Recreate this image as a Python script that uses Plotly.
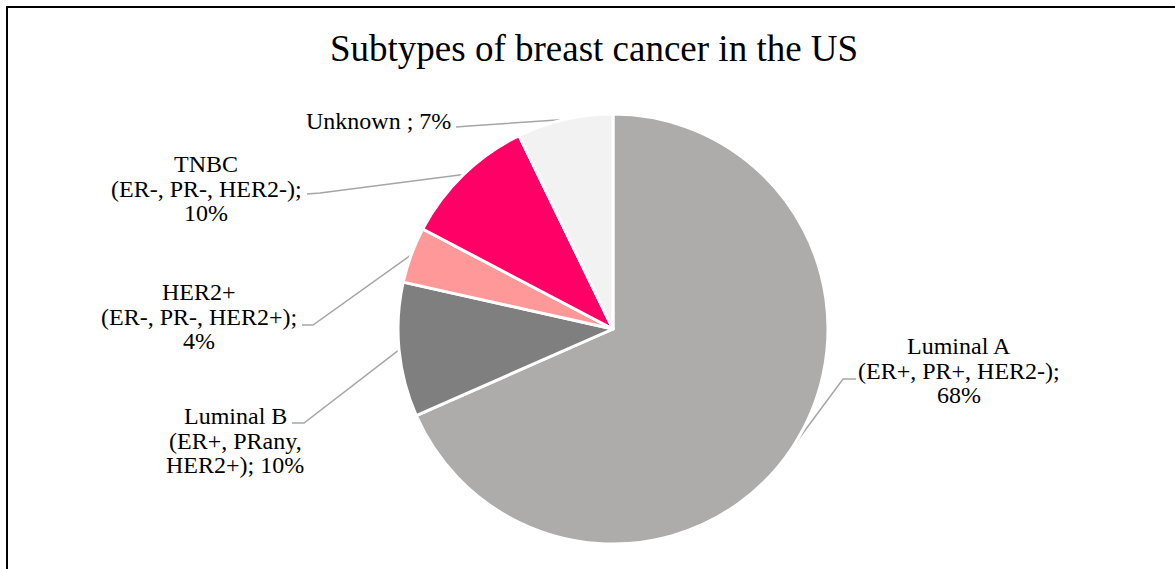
import math
import plotly.graph_objects as go

# ---- data ----
subtypes = ["Luminal A", "Luminal B", "HER2+", "TNBC", "Unknown"]
label_lines = [
    ["Luminal A", "(ER+, PR+, HER2-);", "{p}%"],
    ["Luminal B", "(ER+, PRany,", "HER2+); {p}%"],
    ["HER2+", "(ER-, PR-, HER2+);", "{p}%"],
    ["TNBC", "(ER-, PR-, HER2-);", "{p}%"],
    ["Unknown ; {p}%"],
]
shares = [68.4, 10.1, 4.2, 10.1, 7.2]
colors = ["#AEABAB", "#7F7F7F", "#FF9999", "#FF0066", "#F2F2F2"]

title_text = "Subtypes of breast cancer in the US"

# ---- layout geometry (pixels) ----
W, H = 1175, 569
CX, CY, R = 613, 329, 215
FONT = "Liberation Serif, Times New Roman, serif"
LABEL_SIZE = 24
LINE_GAP = 24.5

# label block: centre x, first-line y, elbow (text side), elbow (pie side)
label_layout = [
    dict(cx=959, y0=346, a=(856, 379), b=(843, 379)),
    dict(cx=235, y0=416, a=(292, 423), b=(304, 423)),
    dict(cx=199, y0=292, a=(302, 325), b=(313, 325)),
    dict(cx=206, y0=164, a=(307, 194), b=(320, 193)),
    dict(cx=378, y0=121, a=(456, 127), b=(469, 126)),
]

total = sum(shares)
fig = go.Figure()

fig.add_trace(go.Pie(
    labels=subtypes,
    values=shares,
    sort=False,
    direction="clockwise",
    rotation=0,
    marker=dict(colors=colors, line=dict(color="white", width=3)),
    textinfo="none",
    hoverinfo="skip",
    showlegend=False,
    domain=dict(
        x=[(CX - R) / W, (CX + R) / W],
        y=[1 - (CY + R) / H, 1 - (CY - R) / H],
    ),
))

annotations = [dict(
    text=title_text, x=594, y=48, xref="x", yref="y",
    xanchor="center", yanchor="middle", showarrow=False,
    font=dict(family=FONT, size=37, color="black"),
)]

cum = 0.0
for name, lines, share, lay in zip(subtypes, label_lines, shares, label_layout):
    mid = (cum + share / 2) / total * 2 * math.pi
    cum += share
    ex = CX + R * math.sin(mid)
    ey = CY - R * math.cos(mid)
    pct = round(share / total * 100)
    # leader line from the label to the slice edge
    fig.add_trace(go.Scatter(
        x=[lay["a"][0], lay["b"][0], ex],
        y=[lay["a"][1], lay["b"][1], ey],
        mode="lines",
        line=dict(color="#A6A6A6", width=1.5),
        hoverinfo="skip",
        showlegend=False,
    ))
    for i, ln in enumerate(lines):
        annotations.append(dict(
            text=ln.format(p=pct), x=lay["cx"], y=lay["y0"] + i * LINE_GAP,
            xref="x", yref="y", xanchor="center", yanchor="middle",
            showarrow=False,
            font=dict(family=FONT, size=LABEL_SIZE, color="black"),
        ))

fig.update_layout(
    width=W, height=H,
    margin=dict(l=0, r=0, t=0, b=0),
    paper_bgcolor="white",
    plot_bgcolor="white",
    xaxis=dict(range=[0, W], visible=False, fixedrange=True),
    yaxis=dict(range=[H, 0], visible=False, fixedrange=True),
    annotations=annotations,
    shapes=[dict(
        type="rect", xref="x", yref="y",
        x0=7, y0=7, x1=W + 20, y1=H + 20,
        line=dict(color="black", width=2),
    )],
)

fig.write_html("out.html")
